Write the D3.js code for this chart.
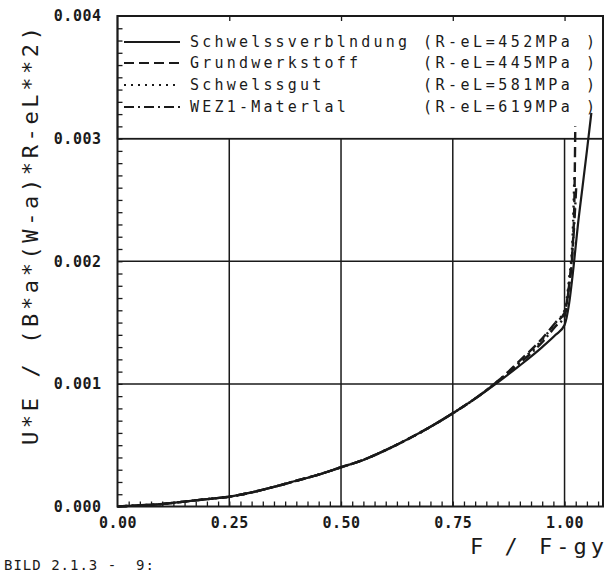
<!DOCTYPE html>
<html><head><meta charset="utf-8">
<script src="https://cdn.jsdelivr.net/npm/d3@7/dist/d3.min.js"></script>
<style>
html,body{margin:0;padding:0;background:#fff;}
text{font-family:"DejaVu Sans Mono","Liberation Mono",monospace;fill:#1a1a1a;white-space:pre;}
</style></head>
<body><svg id="c" width="608" height="572"></svg>
<script>
// ---- data ----
const xTicks = [0, 0.25, 0.5, 0.75, 1.0];
const yTicks = [0, 0.001, 0.002, 0.003, 0.004];
const seriesNames = ["Schwelssverblndung", "Grundwerkstoff", "Schwelssgut", "WEZ1-Materlal"];
const seriesRel = ["(R-eL=452MPa )", "(R-eL=445MPa )", "(R-eL=581MPa )", "(R-eL=619MPa )"];
const seriesDash = ["", "10,5", "2,5", "10,4,2,4"];

const commonX = [0, 0.05, 0.1, 0.15, 0.2, 0.25, 0.3, 0.35, 0.4, 0.45, 0.5, 0.55, 0.6, 0.65, 0.7, 0.75, 0.8];
const commonY = [0, 0.00001, 0.00002, 0.00004, 0.00006, 0.00008, 0.000115, 0.00016, 0.00021, 0.00026, 0.00032, 0.00038, 0.00046, 0.00055, 0.00065, 0.00076, 0.00088];

const verbX = [0.85, 0.9, 0.95, 0.98, 1.0, 1.01, 1.02, 1.03, 1.04, 1.05, 1.06];
const verbY = [0.00101, 0.00115, 0.0013, 0.0014, 0.00148, 0.00165, 0.00195, 0.0023, 0.0026, 0.0029, 0.00321];

const grundX = [0.85, 0.9, 0.95, 0.98, 1.0, 1.01, 1.018, 1.022, 1.024];
const grundY = [0.00102, 0.00119, 0.00137, 0.0015, 0.00158, 0.0018, 0.0021, 0.0025, 0.0031];

const gutX = [0.85, 0.9, 0.95, 0.98, 1.0, 1.01, 1.018, 1.022];
const gutY = [0.00102, 0.00118, 0.00136, 0.0015, 0.0016, 0.00185, 0.0022, 0.0027];

const wezX = [0.85, 0.9, 0.95, 0.98, 1.0, 1.01, 1.02, 1.026];
const wezY = [0.00102, 0.00117, 0.00134, 0.00147, 0.00155, 0.0018, 0.0022, 0.0026];

// ---- build ----
const svg = d3.select("#c");
const L = 117.5, R = 603, T = 16, B = 506.5;
const x = d3.scaleLinear().domain([0, 1.086]).range([L, R]);
const y = d3.scaleLinear().domain([0, 0.004]).range([B, T]);

function pts(xs, ys) { return xs.map((v, i) => [v, ys[i]]); }
const series = [
  pts(commonX.concat(verbX), commonY.concat(verbY)),
  pts(commonX.concat(grundX), commonY.concat(grundY)),
  pts(commonX.concat(gutX), commonY.concat(gutY)),
  pts(commonX.concat(wezX), commonY.concat(wezY))
];

// grid
const grid = svg.append("g").attr("stroke", "#1a1a1a").attr("stroke-width", 1.5);
grid.selectAll("line.v").data(xTicks.filter(d => d > 0)).join("line")
  .attr("x1", d => x(d)).attr("x2", d => x(d)).attr("y1", T).attr("y2", B);
grid.selectAll("line.h").data(yTicks.filter(d => d > 0 && d < 0.004)).join("line").attr("class","h")
  .attr("x1", L).attr("x2", R).attr("y1", d => y(d)).attr("y2", d => y(d));

// legend box (white, hides grid)
const legTop = T, legBot = y(0.003);
svg.append("rect").attr("x", L).attr("y", legTop).attr("width", R - L).attr("height", legBot - legTop)
  .attr("fill", "#fff").attr("stroke", "#1a1a1a").attr("stroke-width", 1.5);

// frame
svg.append("rect").attr("x", L).attr("y", T).attr("width", R - L).attr("height", B - T)
  .attr("fill", "none").attr("stroke", "#1a1a1a").attr("stroke-width", 2);

// minor ticks
const yMinor = d3.range(1, 40).map(i => i * 0.0001);
svg.append("g").attr("transform", `translate(${L},0)`)
  .call(d3.axisRight(y).tickValues(yMinor).tickSize(5).tickFormat(""))
  .call(g => g.select(".domain").remove())
  .selectAll("line").attr("stroke", "#1a1a1a").attr("stroke-width", 1.3);
const xMinor = d3.range(1, 44).map(i => i * 0.025);
svg.append("g").attr("transform", `translate(0,${B})`)
  .call(d3.axisTop(x).tickValues(xMinor).tickSize(5).tickFormat(""))
  .call(g => g.select(".domain").remove())
  .selectAll("line").attr("stroke", "#1a1a1a").attr("stroke-width", 1.3);
svg.append("g").attr("transform", `translate(0,${T})`)
  .call(d3.axisBottom(x).tickValues(xTicks.filter(d => d > 0)).tickSize(5).tickFormat(""))
  .call(g => g.select(".domain").remove())
  .selectAll("line").attr("stroke", "#1a1a1a").attr("stroke-width", 1.3);

// tick labels
svg.append("g").attr("transform", `translate(${L - 13},0)`)
  .call(d3.axisLeft(y).tickValues(yTicks).tickSize(0).tickFormat(d3.format(".3f")))
  .call(g => g.select(".domain").remove())
  .selectAll("text").attr("font-size", 15).attr("font-weight", "bold").style("letter-spacing", "0.5px")
  .attr("font-family", "DejaVu Sans Mono").attr("fill", "#1a1a1a");
svg.append("g").attr("transform", `translate(0,${B + 8})`)
  .call(d3.axisBottom(x).tickValues(xTicks).tickSize(0).tickFormat(d3.format(".2f")))
  .call(g => g.select(".domain").remove())
  .selectAll("text").attr("font-size", 15).attr("font-weight", "bold").style("letter-spacing", "0.5px")
  .attr("font-family", "DejaVu Sans Mono").attr("fill", "#1a1a1a");

// legend entries
const rowsY = [42, 63, 85, 107];
seriesNames.forEach((n, i) => {
  svg.append("line").attr("x1", 124).attr("x2", 180).attr("y1", rowsY[i]).attr("y2", rowsY[i])
    .attr("stroke", "#1a1a1a").attr("stroke-width", 2.2).attr("stroke-dasharray", seriesDash[i] || null);
  svg.append("text").attr("x", 190).attr("y", rowsY[i] + 5).attr("font-size", 15)
    .style("letter-spacing", "3.2px").text(n);
  svg.append("text").attr("x", 423).attr("y", rowsY[i] + 5).attr("font-size", 15)
    .style("letter-spacing", "3.5px").text(seriesRel[i]);
});

// curves
const line = d3.line().x(d => x(d[0])).y(d => y(d[1])).curve(d3.curveMonotoneX);
series.forEach((s, i) => {
  svg.append("path").datum(s).attr("d", line).attr("fill", "none")
    .attr("stroke", "#1a1a1a").attr("stroke-width", i === 0 ? 2.2 : 2.4)
    .attr("stroke-dasharray", seriesDash[i] || null);
});

// axis titles
svg.append("text").attr("transform", "translate(38,236) rotate(-90)").attr("text-anchor", "middle")
  .attr("font-size", 22).attr("textLength", 418).attr("lengthAdjust", "spacing")
  .text("U*E / (B*a*(W-a)*R-eL**2)");
svg.append("text").attr("x", 470).attr("y", 554).attr("font-size", 22)
  .attr("textLength", 134).attr("lengthAdjust", "spacing").text("F / F-gy");
svg.append("text").attr("x", 4).attr("y", 570).attr("font-size", 14)
  .style("letter-spacing", "1px").text("BILD 2.1.3 -  9:");
</script></body></html>
